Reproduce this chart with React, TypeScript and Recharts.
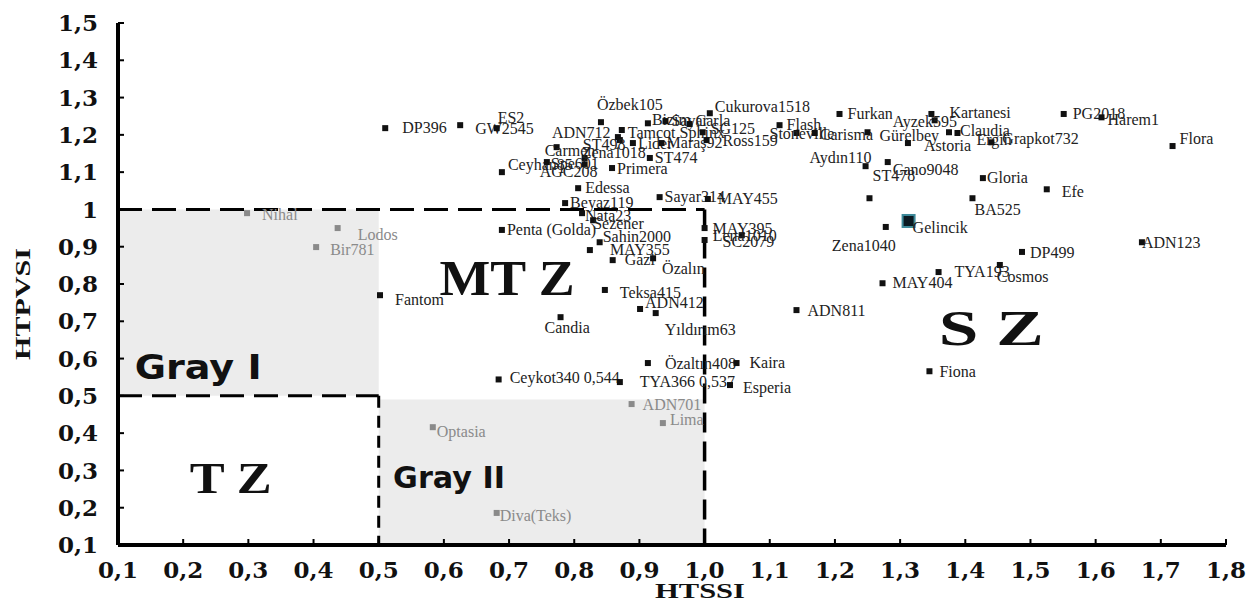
import React from 'react';
import {
  ScatterChart, Scatter, XAxis, YAxis, ReferenceArea, ReferenceLine, ReferenceDot,
} from 'recharts';

const names = [
  'DP396', 'GW2545', 'ES2', 'Özbek105', 'ADN712', 'Bizim', 'Sayar', 'Carla', 'Tamcot Sphinx', 'ST498',
  'Lider', 'Maraş92', 'Carmen', 'Zena1018', 'Ceyhan85', 'Spe601', 'AGC208', 'ST474', 'Primera', 'Cukurova1518',
  'Furkan', 'Kartanesi', 'Ayzek595', 'SG125', 'Flash', 'Stoneville', 'Carisma', 'Gürelbey', 'Claudia', 'Ergin',
  'Grapkot732', 'Astoria', 'Ross159', 'Aydın110', 'Cano9048', 'ST478', 'PG2018', 'Harem1', 'Flora', 'Gloria',
  'Efe', 'BA525', 'Sayar314', 'MAY455', 'Edessa', 'Beyaz119', 'Nata23', 'Sezener', 'Penta (Golda)', 'Sahin2000',
  'MAY355', 'Gazi', 'Özalın', 'Teksa415', 'ADN412', 'Yıldırım63', 'Candia', 'Fantom', 'Özaltın408', 'Kaira',
  'Ceykot340 0,544', 'TYA366 0,537', 'Esperia', 'ADN701', 'Lima', 'Optasia', 'Diva(Teks)', 'Nihal', 'Lodos', 'Bir781',
  'Gelincik', 'Zena1040', 'MAY395', 'Lena1010', 'SC2079', 'TYA193', 'MAY404', 'ADN811', 'DP499', 'ADN123',
  'Cosmos', 'Fiona',
];

const htssi = [
  0.510, 0.625, 0.681, 0.841, 0.867, 0.913, 0.940, 0.977, 0.873, 0.870,
  0.890, 0.934, 0.773, 0.816, 0.689, 0.758, 0.816, 0.916, 0.858, 1.008,
  1.207, 1.348, 1.353, 0.997, 1.115, 1.141, 1.169, 1.250, 1.375, 1.388,
  1.440, 1.312, 1.003, 1.247, 1.281, 1.253, 1.551, 1.609, 1.718, 1.427,
  1.525, 1.411, 0.931, 1.005, 0.806, 0.786, 0.812, 0.829, 0.689, 0.839,
  0.824, 0.859, 0.921, 0.847, 0.901, 0.925, 0.779, 0.502, 0.913, 1.049,
  0.684, 0.870, 1.039, 0.888, 0.936, 0.583, 0.681, 0.298, 0.437, 0.404,
  1.313, 1.278, 1.000, 1.057, 1.000, 1.359, 1.273, 1.141, 1.487, 1.671,
  1.453, 1.345,
];

const htpvsi = [
  1.218, 1.226, 1.218, 1.234, 1.194, 1.231, 1.237, 1.229, 1.213, 1.186,
  1.178, 1.178, 1.167, 1.138, 1.100, 1.127, 1.121, 1.138, 1.111, 1.258,
  1.256, 1.256, 1.239, 1.207, 1.226, 1.205, 1.205, 1.207, 1.207, 1.205,
  1.180, 1.178, 1.186, 1.116, 1.127, 1.030, 1.256, 1.247, 1.170, 1.084,
  1.054, 1.030, 1.033, 1.028, 1.057, 1.017, 0.990, 0.971, 0.945, 0.912,
  0.891, 0.864, 0.869, 0.784, 0.733, 0.722, 0.711, 0.770, 0.588, 0.588,
  0.544, 0.537, 0.529, 0.478, 0.427, 0.416, 0.186, 0.990, 0.950, 0.899,
  0.969, 0.953, 0.950, 0.931, 0.918, 0.832, 0.802, 0.730, 0.886, 0.912,
  0.851, 0.566,
];

const grayNames = ['ADN701', 'Lima', 'Optasia', 'Diva(Teks)', 'Nihal', 'Lodos', 'Bir781'];
const highlightNames = ['Gelincik'];

const xTicks = [0.1, 0.2, 0.3, 0.4, 0.5, 0.6, 0.7, 0.8, 0.9, 1.0, 1.1, 1.2, 1.3, 1.4, 1.5, 1.6, 1.7, 1.8];
const yTicks = [0.1, 0.2, 0.3, 0.4, 0.5, 0.6, 0.7, 0.8, 0.9, 1, 1.1, 1.2, 1.3, 1.4, 1.5];

const zoneLabels = ['MT Z', 'S Z', 'T Z', 'Gray I', 'Gray II'];
const zoneX = [0.697, 1.44, 0.273, 0.223, 0.608];
const zoneY = [0.816, 0.682, 0.28, 0.575, 0.28];

// label placement relative to marker (pixels)
const labelOffsets: Record<string, [number, number]> = {
  DP396: [17, 0], GW2545: [15, 4], ES2: [1, -10], 'Özbek105': [-4, -17], ADN712: [-66, -4],
  Bizim: [4, -3], Sayar: [6, 0], Carla: [6, -3], 'Tamcot Sphinx': [6, 3], ST498: [-37, 5],
  Lider: [5, 1], 'Maraş92': [5, 0], Carmen: [-12, 4], Zena1018: [-3, -5], Ceyhan85: [6, -7],
  Spe601: [4, 2], AGC208: [-45, 8], ST474: [5, 0], Primera: [5, 1], Cukurova1518: [5, -6],
  Furkan: [8, 0], Kartanesi: [18, -1], Ayzek595: [-42, 2], SG125: [8, -3], Flash: [7, 0],
  Stoneville: [-27, 1], Carisma: [5, 2], 'Gürelbey': [12, 4], Claudia: [11, -1], Ergin: [19, 7],
  Grapkot732: [11, -3], Astoria: [16, 3], Ross159: [16, 1], 'Aydın110': [-56, -8], Cano9048: [5, 8],
  ST478: [3, -22], PG2018: [9, 0], Harem1: [6, 3], Flora: [7, -7], Gloria: [4, 0],
  Efe: [15, 3], BA525: [2, 12], Sayar314: [5, 0], MAY455: [10, 0], Edessa: [7, 0],
  Beyaz119: [5, 0], Nata23: [3, 3], Sezener: [0, 4], 'Penta (Golda)': [5, 0], Sahin2000: [3, -5],
  MAY355: [20, 0], Gazi: [12, 0], 'Özalın': [9, 11], Teksa415: [15, 3], ADN412: [5, -6],
  'Yıldırım63': [9, 17], Candia: [-16, 11], Fantom: [15, 5], 'Özaltın408': [17, 1], Kaira: [13, 0],
  'Ceykot340 0,544': [11, -1], 'TYA366 0,537': [20, 0], Esperia: [13, 3], ADN701: [11, 1], Lima: [7, -3],
  Optasia: [4, 5], 'Diva(Teks)': [3, 3], Nihal: [15, 2], Lodos: [20, 7], Bir781: [14, 3],
  Gelincik: [4, 7], Zena1040: [-54, 19], MAY395: [8, 1], Lena1010: [-29, 1], SC2079: [18, 2],
  TYA193: [16, 0], MAY404: [10, 0], ADN811: [11, 1], DP499: [8, 1], ADN123: [0, 1],
  Cosmos: [-3, 12], Fiona: [10, 1],
};

const data = names.map((n, i) => ({ name: n, x: htssi[i], y: htpvsi[i] }));

const SERIF = '"Liberation Serif", "Times New Roman", serif';
const WIDE_SERIF = '"DejaVu Serif", "Liberation Serif", serif';
const SANS = '"DejaVu Sans", Verdana, sans-serif';

const PointShape = (props: any) => {
  const { cx, cy, payload } = props;
  if (cx == null || cy == null) return <g />;
  const name: string = payload.name;
  const isGray = grayNames.includes(name);
  const isHi = highlightNames.includes(name);
  const off = labelOffsets[name] || [8, 0];
  const color = isGray ? '#8a8a8a' : '#111';
  return (
    <g>
      {isHi ? (
        <rect x={cx - 6} y={cy - 6} width={12} height={12} fill="#0b1a22" stroke="#3d8a9a" strokeWidth={2} />
      ) : (
        <rect x={cx - 3} y={cy - 3} width={6} height={6} fill={color} />
      )}
      <text
        x={cx + off[0]}
        y={cy + off[1] + 5}
        fontFamily={SERIF}
        fontSize={16}
        fill={isGray ? '#8a8a8a' : '#222'}
      >
        {name}
      </text>
    </g>
  );
};

const zoneStyles: Record<string, { font: string; size: number; len: number }> = {
  'MT Z': { font: SERIF, size: 50, len: 135 },
  'S Z': { font: SERIF, size: 50, len: 105 },
  'T Z': { font: SERIF, size: 45, len: 82 },
  'Gray I': { font: SANS, size: 34, len: 127 },
  'Gray II': { font: SANS, size: 31, len: 112 },
};

const renderZone = (label: string) => (props: any) => {
  const vb = props.viewBox || { x: 0, y: 0, width: 0, height: 0 };
  const cx = vb.x + (vb.width || 0) / 2;
  const cy = vb.y + (vb.height || 0) / 2;
  const st = zoneStyles[label];
  return (
    <text
      x={cx}
      y={cy + st.size * 0.34}
      textAnchor="middle"
      fontFamily={st.font}
      fontWeight={700}
      fontSize={st.size}
      textLength={st.len}
      lengthAdjust="spacingAndGlyphs"
      fill="#111"
    >
      {label}
    </text>
  );
};

const yTitle = (props: any) => {
  const vb = props.viewBox || { x: 0, y: 23, width: 118, height: 522 };
  const cy = vb.y + vb.height / 2 + 20;
  return (
    <text
      x={30}
      y={cy}
      transform={`rotate(-90, 30, ${cy})`}
      textAnchor="middle"
      fontFamily={SERIF}
      fontWeight={700}
      fontSize={21}
      textLength={112}
      lengthAdjust="spacingAndGlyphs"
      fill="#111"
    >
      HTPVSI
    </text>
  );
};

const xTitle = (props: any) => {
  const vb = props.viewBox || { x: 118, y: 545, width: 1108, height: 58 };
  return (
    <text
      x={vb.x + 582}
      y={598}
      textAnchor="middle"
      fontFamily={SERIF}
      fontWeight={700}
      fontSize={21}
      textLength={90}
      lengthAdjust="spacingAndGlyphs"
      fill="#111"
    >
      HTSSI
    </text>
  );
};

const tickStyle = { fontFamily: WIDE_SERIF, fontWeight: 700, fontSize: 23, fill: '#111' };

export default function App() {
  return (
    <div style={{ position: 'fixed', left: 0, top: 0, background: '#fff' }}>
      <ScatterChart width={1260} height={603} margin={{ top: 23, right: 34, left: 0, bottom: 0 }}>
        <ReferenceArea x1={0.1} x2={0.5} y1={0.5} y2={1} fill="#ececec" fillOpacity={1} stroke="none" />
        <ReferenceArea x1={0.5} x2={1} y1={0.1} y2={0.49} fill="#ececec" fillOpacity={1} stroke="none" />
        <XAxis
          type="number"
          dataKey="x"
          domain={[0.1, 1.8]}
          ticks={xTicks}
          interval={0}
          allowDataOverflow
          height={58}
          axisLine={{ stroke: '#000', strokeWidth: 4 }}
          tickLine={{ stroke: '#000', strokeWidth: 2 }}
          tickSize={-6}
          tickMargin={23}
          tickFormatter={(v: number) => v.toFixed(1).replace('.', ',')}
          tick={tickStyle}
          label={xTitle}
        />
        <YAxis
          type="number"
          dataKey="y"
          domain={[0.1, 1.5]}
          ticks={yTicks}
          interval={0}
          allowDataOverflow
          width={118}
          axisLine={{ stroke: '#000', strokeWidth: 4 }}
          tickLine={{ stroke: '#000', strokeWidth: 2 }}
          tickSize={-6}
          tickMargin={26}
          tickFormatter={(v: number) => String(v).replace('.', ',')}
          tick={tickStyle}
          label={yTitle}
        />
        <ReferenceLine segment={[{ x: 0.1, y: 1 }, { x: 1, y: 1 }]} stroke="#000" strokeWidth={3} strokeDasharray="24 10" />
        <ReferenceLine segment={[{ x: 1, y: 1 }, { x: 1, y: 0.1 }]} stroke="#000" strokeWidth={3.5} strokeDasharray="20 9" />
        <ReferenceLine segment={[{ x: 0.1, y: 0.5 }, { x: 0.5, y: 0.5 }]} stroke="#000" strokeWidth={3} strokeDasharray="24 10" />
        <ReferenceLine segment={[{ x: 0.5, y: 0.5 }, { x: 0.5, y: 0.1 }]} stroke="#000" strokeWidth={3} strokeDasharray="12 8" />
        {zoneLabels.map((z, i) => (
          <ReferenceDot
            key={z}
            x={zoneX[i]}
            y={zoneY[i]}
            r={0}
            fill="none"
            stroke="none"
            label={renderZone(z)}
          />
        ))}
        <Scatter data={data} isAnimationActive={false} shape={PointShape} />
      </ScatterChart>
    </div>
  );
}
